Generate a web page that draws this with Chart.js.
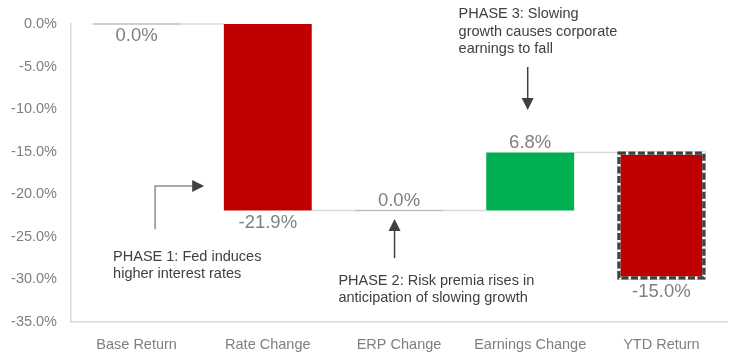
<!DOCTYPE html>
<html>
<head>
<meta charset="utf-8">
<script src="https://cdn.jsdelivr.net/npm/chart.js@4"></script>
<style>
html,body{margin:0;padding:0;background:#fff;}
#wrap{width:744px;height:363px;position:relative;}
</style>
</head>
<body>
<div id="wrap"><canvas id="c" width="744" height="363"></canvas></div>
<script>
// ---- data ----
const categories = ['Base Return', 'Rate Change', 'ERP Change', 'Earnings Change', 'YTD Return'];
const barStart   = [0, 0, -21.9, -21.9, -15.0];
const barEnd     = [0, -21.9, -21.9, -15.1, -30.0];
const labelValues = [0.0, -21.9, 0.0, 6.8, -15.0];
const yTicks = [0, -5, -10, -15, -20, -25, -30, -35];

const labelSide = ['below', 'below', 'above', 'above', 'below'];
const barColors = ['rgba(0,0,0,0)', '#c00000', 'rgba(0,0,0,0)', '#00b050', '#c00000'];

const FONT = "'Liberation Sans', Arial, sans-serif";

const waterfallPlugin = {
  id: 'waterfall',
  afterDatasetsDraw(chart) {
    const ctx = chart.ctx;
    const meta = chart.getDatasetMeta(0);
    const ys = chart.scales.y;
    ctx.save();
    // connectors
    ctx.strokeStyle = '#d9d9d9';
    ctx.lineWidth = 1.5;
    for (let i = 0; i < meta.data.length - 1; i++) {
      const a = meta.data[i], b = meta.data[i + 1];
      const yy = ys.getPixelForValue(barEnd[i]);
      ctx.beginPath();
      ctx.moveTo(a.x + a.width / 2, yy);
      ctx.lineTo(b.x - b.width / 2, yy);
      ctx.stroke();
    }
    // zero-height bars
    ctx.strokeStyle = '#bfbfbf';
    meta.data.forEach((bar, i) => {
      if (barStart[i] === barEnd[i]) {
        const yy = ys.getPixelForValue(barEnd[i]);
        ctx.beginPath();
        ctx.moveTo(bar.x - bar.width / 2, yy);
        ctx.lineTo(bar.x + bar.width / 2, yy);
        ctx.stroke();
      }
    });
    // dashed border for the total bar
    const li = meta.data.length - 1;
    const last = meta.data[li];
    const t = ys.getPixelForValue(Math.max(barStart[li], barEnd[li]));
    const bt = ys.getPixelForValue(Math.min(barStart[li], barEnd[li]));
    const rx = last.x - last.width / 2 + 1.5, rw = last.width - 3, rh = bt - t - 3;
    ctx.lineWidth = 3.2;
    ctx.strokeStyle = '#ffffff';
    ctx.strokeRect(rx, t + 1.5, rw, rh);
    ctx.strokeStyle = '#3f3f3f';
    ctx.setLineDash([7, 2.5]);
    ctx.strokeRect(rx, t + 1.5, rw, rh);
    ctx.setLineDash([]);
    // value labels
    ctx.fillStyle = '#7f7f7f';
    ctx.font = '18.5px ' + FONT;
    ctx.textAlign = 'center';
    ctx.textBaseline = 'middle';
    meta.data.forEach((bar, i) => {
      const hi = ys.getPixelForValue(Math.max(barStart[i], barEnd[i]));
      const lo = ys.getPixelForValue(Math.min(barStart[i], barEnd[i]));
      const yy = labelSide[i] === 'below' ? lo + 12 : hi - 10;
      ctx.fillText(labelValues[i].toFixed(1) + '%', bar.x, yy);
    });
    ctx.restore();
  },
  afterDraw(chart) {
    const ctx = chart.ctx;
    const ys = chart.scales.y;
    const cw = (chart.chartArea.right - chart.chartArea.left) / categories.length;
    const px = (f) => chart.chartArea.left + (f + 0.5) * cw;
    const py = (v) => ys.getPixelForValue(v);
    ctx.save();
    function head(x, y, dir) {
      ctx.fillStyle = '#404040';
      ctx.beginPath();
      if (dir === 'right') { ctx.moveTo(x, y); ctx.lineTo(x - 12, y - 6); ctx.lineTo(x - 12, y + 6); }
      if (dir === 'up') { ctx.moveTo(x, y); ctx.lineTo(x - 6, y + 12); ctx.lineTo(x + 6, y + 12); }
      if (dir === 'down') { ctx.moveTo(x, y); ctx.lineTo(x - 6, y - 12); ctx.lineTo(x + 6, y - 12); }
      ctx.closePath();
      ctx.fill();
    }
    ctx.lineWidth = 1.5;
    // phase 1 arrow
    ctx.strokeStyle = '#8c8c8c';
    ctx.beginPath();
    ctx.moveTo(px(0.141), py(-24.1));
    ctx.lineTo(px(0.141), py(-19.03));
    ctx.lineTo(px(0.515) - 10, py(-19.03));
    ctx.stroke();
    head(px(0.515), py(-19.03), 'right');
    // phase 2 arrow
    ctx.strokeStyle = '#404040';
    ctx.beginPath();
    ctx.moveTo(px(1.966), py(-27.5));
    ctx.lineTo(px(1.966), py(-22.9) + 10);
    ctx.stroke();
    head(px(1.966), py(-22.9), 'up');
    // phase 3 arrow
    ctx.beginPath();
    ctx.moveTo(px(2.981), py(-5.05));
    ctx.lineTo(px(2.981), py(-10.1) - 10);
    ctx.stroke();
    head(px(2.981), py(-10.1), 'down');
    // texts
    ctx.fillStyle = '#404040';
    ctx.font = '14.5px ' + FONT;
    ctx.textAlign = 'left';
    ctx.textBaseline = 'middle';
    const texts = [
      [-0.179, -27.37, 'PHASE 1: Fed induces'],
      [-0.179, -29.36, 'higher interest rates'],
      [1.538, -30.19, 'PHASE 2: Risk premia rises in'],
      [1.538, -32.18, 'anticipation of slowing growth'],
      [2.454, 1.17, 'PHASE 3: Slowing'],
      [2.454, -0.94, 'growth causes corporate'],
      [2.454, -2.94, 'earnings to fall']
    ];
    texts.forEach(([f, v, s]) => ctx.fillText(s, px(f), py(v)));
    ctx.restore();
  }
};

new Chart(document.getElementById('c'), {
  type: 'bar',
  data: {
    labels: categories,
    datasets: [{
      data: barStart.map((s, i) => [s, barEnd[i]]),
      backgroundColor: barColors,
      borderWidth: 0,
      barPercentage: 0.67,
      categoryPercentage: 1.0
    }]
  },
  options: {
    responsive: false,
    animation: false,
    devicePixelRatio: 1,
    layout: { padding: { top: 24, right: 17, left: 0, bottom: 0 } },
    plugins: { legend: { display: false }, tooltip: { enabled: false } },
    scales: {
      x: {
        grid: { display: false, drawTicks: false },
        border: { display: true, color: '#d9d9d9', width: 1.5 },
        ticks: { color: '#7f7f7f', font: { family: FONT, size: 14.5 }, padding: 14, maxRotation: 0 },
        afterFit(scale) { scale.height = 41; }
      },
      y: {
        min: -35, max: 0,
        afterBuildTicks(scale) { scale.ticks = yTicks.map(v => ({ value: v })); },
        grid: { display: false, drawTicks: false },
        border: { display: true, color: '#d9d9d9', width: 1.5 },
        ticks: { color: '#7f7f7f', font: { family: FONT, size: 14.5 }, padding: 14,
          callback: (v) => Number(v).toFixed(1) + '%' },
        afterFit(scale) { scale.width = 71; }
      }
    }
  },
  plugins: [waterfallPlugin]
});
</script>
</body>
</html>
